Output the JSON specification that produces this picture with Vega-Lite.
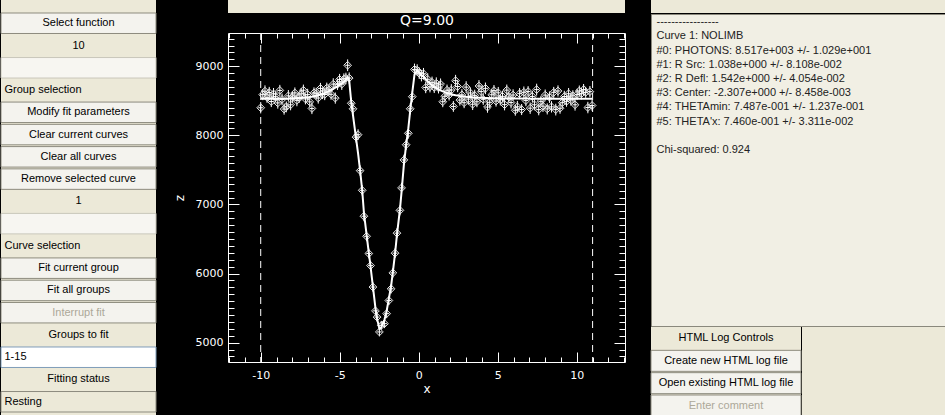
{
  "$schema": "https://vega.github.io/schema/vega-lite/v6.json",
  "background": "#000000",
  "padding": 0,
  "spacing": 15,
  "config": {
    "view": {"stroke": null},
    "axis": {"grid": false, "domain": false, "tickColor": "#ffffff", "labelColor": "#ffffff", "titleColor": "#ffffff", "labelFont": "DejaVu Sans", "titleFont": "DejaVu Sans", "labelFontSize": 11, "titleFontWeight": "normal", "tickWidth": 1}
  },
  "datasets": {
    "pts": [
      {"x":-10.00,"z":8400,"e":82,"f":8530},{"x":-9.87,"z":8590,"e":80,"f":8530},{"x":-9.73,"z":8640,"e":84,"f":8530},{"x":-9.60,"z":8550,"e":78,"f":8530},{"x":-9.46,"z":8620,"e":82,"f":8530},{"x":-9.33,"z":8490,"e":80,"f":8530},{"x":-9.19,"z":8600,"e":86,"f":8530},{"x":-9.06,"z":8560,"e":79,"f":8530},{"x":-8.92,"z":8470,"e":83,"f":8530},{"x":-8.79,"z":8651,"e":80,"f":8531},{"x":-8.65,"z":8521,"e":85,"f":8531},{"x":-8.52,"z":8381,"e":81,"f":8531},{"x":-8.38,"z":8412,"e":78,"f":8532},{"x":-8.25,"z":8572,"e":84,"f":8532},{"x":-8.11,"z":8443,"e":80,"f":8533},{"x":-7.98,"z":8554,"e":82,"f":8534},{"x":-7.84,"z":8615,"e":79,"f":8535},{"x":-7.71,"z":8507,"e":85,"f":8537},{"x":-7.57,"z":8549,"e":80,"f":8539},{"x":-7.44,"z":8601,"e":83,"f":8541},{"x":-7.30,"z":8654,"e":81,"f":8544},{"x":-7.17,"z":8527,"e":78,"f":8547},{"x":-7.03,"z":8590,"e":84,"f":8550},{"x":-6.90,"z":8485,"e":80,"f":8555},{"x":-6.76,"z":8390,"e":82,"f":8560},{"x":-6.63,"z":8616,"e":79,"f":8566},{"x":-6.49,"z":8603,"e":85,"f":8573},{"x":-6.36,"z":8541,"e":81,"f":8581},{"x":-6.22,"z":8680,"e":80,"f":8590},{"x":-6.09,"z":8610,"e":84,"f":8600},{"x":-5.95,"z":8592,"e":82,"f":8612},{"x":-5.82,"z":8685,"e":79,"f":8625},{"x":-5.68,"z":8660,"e":83,"f":8640},{"x":-5.55,"z":8595,"e":80,"f":8655},{"x":-5.41,"z":8742,"e":85,"f":8672},{"x":-5.28,"z":8540,"e":81,"f":8690},{"x":-5.14,"z":8740,"e":82,"f":8710},{"x":-5.01,"z":8810,"e":80,"f":8730},{"x":-4.87,"z":8742,"e":84,"f":8752},{"x":-4.74,"z":8816,"e":81,"f":8776},{"x":-4.61,"z":8825,"e":83,"f":8805},
      {"x":-4.50,"z":9015,"e":85,"f":8840},{"x":-4.40,"z":8830,"e":82,"f":8790},{"x":-4.27,"z":8465,"e":80,"f":8480},{"x":-4.16,"z":8385,"e":80,"f":8290},{"x":-3.97,"z":7975,"e":78,"f":7960},{"x":-3.84,"z":8010,"e":78,"f":7740},{"x":-3.71,"z":7490,"e":76,"f":7490},{"x":-3.58,"z":7205,"e":75,"f":7210},{"x":-3.47,"z":6830,"e":73,"f":6880},{"x":-3.30,"z":6540,"e":72,"f":6560},{"x":-3.16,"z":6290,"e":70,"f":6300},{"x":-3.05,"z":6115,"e":70,"f":6100},{"x":-2.90,"z":5805,"e":68,"f":5810},{"x":-2.74,"z":5460,"e":66,"f":5500},{"x":-2.64,"z":5370,"e":66,"f":5350},{"x":-2.49,"z":5155,"e":65,"f":5200},{"x":-2.37,"z":5250,"e":65,"f":5220},{"x":-2.17,"z":5275,"e":65,"f":5330},{"x":-2.03,"z":5420,"e":66,"f":5460},{"x":-1.89,"z":5610,"e":67,"f":5640},{"x":-1.75,"z":5780,"e":68,"f":5820},{"x":-1.64,"z":6010,"e":69,"f":6020},{"x":-1.50,"z":6295,"e":70,"f":6290},{"x":-1.38,"z":6585,"e":72,"f":6560},{"x":-1.19,"z":6915,"e":73,"f":6930},{"x":-1.09,"z":7240,"e":74,"f":7180},{"x":-0.94,"z":7645,"e":76,"f":7580},{"x":-0.80,"z":7865,"e":77,"f":7860},{"x":-0.66,"z":8030,"e":78,"f":8100},{"x":-0.54,"z":8385,"e":80,"f":8360},{"x":-0.41,"z":8560,"e":81,"f":8620},{"x":-0.27,"z":8955,"e":84,"f":8880},{"x":-0.10,"z":8945,"e":84,"f":8940},{"x":0.03,"z":8900,"e":84,"f":8905},{"x":0.17,"z":8865,"e":83,"f":8870},
      {"x":0.30,"z":8892,"e":84,"f":8852},{"x":0.44,"z":8693,"e":82,"f":8813},{"x":0.57,"z":8812,"e":84,"f":8782},{"x":0.71,"z":8702,"e":80,"f":8752},{"x":0.84,"z":8768,"e":83,"f":8728},{"x":0.98,"z":8694,"e":81,"f":8704},{"x":1.11,"z":8755,"e":85,"f":8685},{"x":1.25,"z":8687,"e":80,"f":8667},{"x":1.38,"z":8742,"e":82,"f":8652},{"x":1.52,"z":8487,"e":79,"f":8637},{"x":1.65,"z":8566,"e":84,"f":8626},{"x":1.79,"z":8654,"e":81,"f":8614},{"x":1.92,"z":8585,"e":80,"f":8605},{"x":2.06,"z":8657,"e":85,"f":8597},{"x":2.19,"z":8419,"e":78,"f":8589},{"x":2.33,"z":8792,"e":84,"f":8582},{"x":2.46,"z":8707,"e":82,"f":8577},{"x":2.60,"z":8511,"e":80,"f":8571},{"x":2.73,"z":8587,"e":83,"f":8567},{"x":2.87,"z":8473,"e":79,"f":8563},{"x":3.00,"z":8699,"e":85,"f":8559},{"x":3.14,"z":8526,"e":81,"f":8556},{"x":3.27,"z":8614,"e":80,"f":8554},{"x":3.41,"z":8451,"e":84,"f":8551},{"x":3.54,"z":8579,"e":82,"f":8549},{"x":3.68,"z":8487,"e":79,"f":8547},{"x":3.81,"z":8715,"e":85,"f":8545},{"x":3.95,"z":8634,"e":81,"f":8544},{"x":4.08,"z":8522,"e":80,"f":8542},{"x":4.22,"z":8681,"e":84,"f":8541},{"x":4.35,"z":8410,"e":82,"f":8540},{"x":4.49,"z":8479,"e":79,"f":8539},{"x":4.62,"z":8588,"e":83,"f":8538},{"x":4.76,"z":8648,"e":81,"f":8538},{"x":4.89,"z":8497,"e":80,"f":8537},{"x":5.03,"z":8616,"e":85,"f":8536},{"x":5.16,"z":8516,"e":82,"f":8536},{"x":5.30,"z":8565,"e":79,"f":8535},{"x":5.43,"z":8445,"e":83,"f":8535},{"x":5.57,"z":8655,"e":81,"f":8535},{"x":5.70,"z":8555,"e":80,"f":8534},{"x":5.84,"z":8475,"e":84,"f":8534},{"x":5.97,"z":8585,"e":82,"f":8534},{"x":6.11,"z":8364,"e":79,"f":8533},{"x":6.24,"z":8414,"e":85,"f":8533},{"x":6.38,"z":8604,"e":81,"f":8533},{"x":6.51,"z":8374,"e":80,"f":8533},{"x":6.65,"z":8624,"e":84,"f":8533},{"x":6.78,"z":8504,"e":82,"f":8533},{"x":6.92,"z":8634,"e":79,"f":8533},{"x":7.05,"z":8394,"e":83,"f":8532},{"x":7.19,"z":8564,"e":81,"f":8532},{"x":7.32,"z":8443,"e":80,"f":8532},{"x":7.46,"z":8663,"e":85,"f":8532},{"x":7.59,"z":8373,"e":82,"f":8532},{"x":7.73,"z":8493,"e":79,"f":8532},{"x":7.86,"z":8423,"e":84,"f":8532},{"x":8.00,"z":8583,"e":81,"f":8532},{"x":8.13,"z":8383,"e":80,"f":8532},{"x":8.27,"z":8553,"e":83,"f":8532},{"x":8.40,"z":8413,"e":82,"f":8532},{"x":8.54,"z":8623,"e":79,"f":8532},{"x":8.67,"z":8373,"e":85,"f":8532},{"x":8.81,"z":8643,"e":81,"f":8532},{"x":8.94,"z":8393,"e":80,"f":8532},{"x":9.08,"z":8473,"e":84,"f":8532},{"x":9.21,"z":8563,"e":82,"f":8532},{"x":9.35,"z":8493,"e":79,"f":8532},{"x":9.48,"z":8603,"e":83,"f":8532},{"x":9.62,"z":8513,"e":81,"f":8532},{"x":9.75,"z":8573,"e":80,"f":8532},{"x":9.89,"z":8443,"e":85,"f":8532},{"x":10.02,"z":8593,"e":82,"f":8532},{"x":10.16,"z":8643,"e":79,"f":8532},{"x":10.29,"z":8603,"e":84,"f":8532},{"x":10.43,"z":8663,"e":81,"f":8532},{"x":10.56,"z":8623,"e":80,"f":8532},{"x":10.70,"z":8403,"e":83,"f":8532},{"x":10.83,"z":8633,"e":82,"f":8532},{"x":10.97,"z":8433,"e":80,"f":8532}
    ],
    "limits": [{"x": -10}, {"x": 11}],
    "panelL": [
      {"id":"a","label":"Select function","kind":"button"},
      {"id":"b","label":"10","kind":"label"},
      {"id":"c","label":"","kind":"slider"},
      {"id":"d","label":"Group selection","kind":"caption"},
      {"id":"e","label":"Modify fit parameters","kind":"button"},
      {"id":"f","label":"Clear current curves","kind":"button"},
      {"id":"g","label":"Clear all curves","kind":"button"},
      {"id":"h","label":"Remove selected curve","kind":"button"},
      {"id":"i","label":"1","kind":"label"},
      {"id":"j","label":"","kind":"slider"},
      {"id":"k","label":"Curve selection","kind":"caption"},
      {"id":"l","label":"Fit current group","kind":"button"},
      {"id":"m","label":"Fit all groups","kind":"button"},
      {"id":"n","label":"Interrupt fit","kind":"disabled"},
      {"id":"o","label":"Groups to fit","kind":"label"},
      {"id":"p","label":"1-15","kind":"box"},
      {"id":"q","label":"Fitting status","kind":"label"},
      {"id":"r","label":"Resting","kind":"status"}
    ],
    "panelR": [
      {"id":"l0","text":"-----------------"},
      {"id":"l1","text":"Curve 1: NOLIMB"},
      {"id":"l2","text":"#0: PHOTONS: 8.517e+003 +/- 1.029e+001"},
      {"id":"l3","text":"#1: R Src: 1.038e+000 +/- 8.108e-002"},
      {"id":"l4","text":"#2: R Defl: 1.542e+000 +/- 4.054e-002"},
      {"id":"l5","text":"#3: Center: -2.307e+000 +/- 8.458e-003"},
      {"id":"l6","text":"#4: THETAmin: 7.487e-001 +/- 1.237e-001"},
      {"id":"l7","text":"#5: THETA'x: 7.460e-001 +/- 3.311e-002"},
      {"id":"l8","text":""},
      {"id":"l9","text":"Chi-squared: 0.924"}
    ],
    "panelC": [
      {"id":"c0","label":"HTML Log Controls","kind":"label"},
      {"id":"c1","label":"Create new HTML log file","kind":"button"},
      {"id":"c2","label":"Open existing HTML log file","kind":"button"},
      {"id":"c3","label":"Enter comment","kind":"disabled"}
    ]
  },
  "hconcat": [
    {
      "width": 155, "height": 415,
      "view": {"fill": "#ece9d8", "stroke": null},
      "data": {"name": "panelL"},
      "encoding": {"y": {"field": "id", "type": "nominal", "axis": null, "scale": {"domain": ["a","b","c","d","e","f","g","h","i","j","k","l","m","n","o","p","q","r"], "range": [13, 412], "paddingInner": 0.08, "paddingOuter": 0}}},
      "layer": [
        {"transform": [{"filter": "datum.kind === 'button' || datum.kind === 'disabled'"}], "mark": {"type": "rect", "fill": "#f4f3ee", "stroke": "#8d8b7e", "strokeWidth": 1}},
        {"transform": [{"filter": "datum.kind === 'slider'"}], "mark": {"type": "rect", "fill": "#f7f6f1", "stroke": "#c9c7ba", "strokeWidth": 1}},
        {"transform": [{"filter": "datum.kind === 'box'"}], "mark": {"type": "rect", "fill": "#ffffff", "stroke": "#7f9db9", "strokeWidth": 1}},
        {"transform": [{"filter": "datum.kind === 'status'"}], "mark": {"type": "rect", "fill": "#ece9d8", "stroke": "#8d8b7e", "strokeWidth": 1}},
        {"transform": [{"filter": "datum.kind === 'button' || datum.kind === 'label'"}], "mark": {"type": "text", "font": "Liberation Sans", "fontSize": 11, "color": "#000000"}, "encoding": {"text": {"field": "label"}}},
        {"transform": [{"filter": "datum.kind === 'disabled'"}], "mark": {"type": "text", "font": "Liberation Sans", "fontSize": 11, "color": "#aca899"}, "encoding": {"text": {"field": "label"}}},
        {"transform": [{"filter": "datum.kind === 'caption' || datum.kind === 'box' || datum.kind === 'status'"}], "mark": {"type": "text", "font": "Liberation Sans", "fontSize": 11, "color": "#000000", "align": "left", "dx": -74}, "encoding": {"text": {"field": "label"}}}
      ]
    },
    {
      "spacing": 24,
      "hconcat": [
        {
          "spacing": 0,
          "vconcat": [
            {"width": 397, "height": 13, "view": {"fill": "#ece9d8", "stroke": null}, "data": {"values": []}, "mark": "point"},
            {
              "width": 397, "height": 329,
              "view": {"fill": "#000000", "stroke": "#ffffff", "strokeWidth": 1},
              "resolve": {"scale": {"x": "shared", "y": "shared"}, "axis": {"x": "independent", "y": "independent"}},
              "layer": [
                {
                  "data": {"name": "pts"},
                  "mark": {"type": "errorbar", "color": "#ffffff", "thickness": 1},
                  "encoding": {
                    "x": {"field": "x", "type": "quantitative", "scale": {"domain": [-12.07, 13.05], "nice": false, "zero": false}, "axis": null},
                    "y": {"field": "z", "type": "quantitative", "scale": {"domain": [4720, 9482], "nice": false, "zero": false}, "axis": {"orient": "right", "values": [4800,4900,5000,5100,5200,5300,5400,5500,5600,5700,5800,5900,6000,6100,6200,6300,6400,6500,6600,6700,6800,6900,7000,7100,7200,7300,7400,7500,7600,7700,7800,7900,8000,8100,8200,8300,8400,8500,8600,8700,8800,8900,9000,9100,9200,9300,9400], "tickSize": -6, "labels": false, "title": null}},
                    "yError": {"field": "e"}
                  }
                },
                {
                  "data": {"name": "pts"},
                  "mark": {"type": "point", "shape": "diamond", "filled": false, "size": 60, "stroke": "#e6e6e6", "strokeWidth": 1, "opacity": 1},
                  "encoding": {
                    "x": {"field": "x", "type": "quantitative", "scale": {"domain": [-12.07, 13.05], "nice": false, "zero": false}, "axis": {"orient": "bottom", "values": [-10, -5, 0, 5, 10], "tickSize": -10, "labelPadding": 17, "labelExpr": "'' + datum.value", "title": "x", "titlePadding": 3, "titleFontSize": 12}},
                    "y": {"field": "z", "type": "quantitative", "scale": {"domain": [4720, 9482], "nice": false, "zero": false}, "axis": {"orient": "left", "values": [5000, 6000, 7000, 8000, 9000], "tickSize": -11, "labelPadding": 16, "labelExpr": "'' + datum.value", "title": "z", "titlePadding": 9, "titleFontSize": 12}}
                  }
                },
                {
                  "data": {"name": "pts"},
                  "mark": {"type": "point", "shape": "stroke", "size": 25, "stroke": "#ffffff", "strokeWidth": 1, "opacity": 1},
                  "encoding": {
                    "x": {"field": "x", "type": "quantitative", "scale": {"domain": [-12.07, 13.05], "nice": false, "zero": false}, "axis": {"orient": "bottom", "values": [-12,-11,-10,-9,-8,-7,-6,-5,-4,-3,-2,-1,0,1,2,3,4,5,6,7,8,9,10,11,12,13], "tickSize": -5, "labels": false, "title": null}},
                    "y": {"field": "z", "type": "quantitative", "scale": {"domain": [4720, 9482], "nice": false, "zero": false}, "axis": {"orient": "left", "values": [4800,4900,5000,5100,5200,5300,5400,5500,5600,5700,5800,5900,6000,6100,6200,6300,6400,6500,6600,6700,6800,6900,7000,7100,7200,7300,7400,7500,7600,7700,7800,7900,8000,8100,8200,8300,8400,8500,8600,8700,8800,8900,9000,9100,9200,9300,9400], "tickSize": -6, "labels": false, "title": null}}
                  }
                },
                {
                  "data": {"name": "pts"},
                  "mark": {"type": "line", "color": "#ffffff", "strokeWidth": 2},
                  "encoding": {
                    "x": {"field": "x", "type": "quantitative", "scale": {"domain": [-12.07, 13.05], "nice": false, "zero": false}, "axis": {"orient": "top", "values": [-10, -5, 0, 5, 10], "tickSize": -10, "labels": false, "title": "Q=9.00", "titlePadding": 5, "titleFontSize": 14}},
                    "y": {"field": "f", "type": "quantitative", "scale": {"domain": [4720, 9482], "nice": false, "zero": false}, "axis": {"orient": "right", "values": [5000, 6000, 7000, 8000, 9000], "tickSize": -11, "labels": false, "title": null}}
                  }
                },
                {
                  "data": {"name": "limits"},
                  "mark": {"type": "rule", "color": "#ffffff", "strokeDash": [7, 5], "strokeWidth": 1},
                  "encoding": {
                    "x": {"field": "x", "type": "quantitative", "scale": {"domain": [-12.07, 13.05], "nice": false, "zero": false}, "axis": {"orient": "top", "values": [-12,-11,-10,-9,-8,-7,-6,-5,-4,-3,-2,-1,0,1,2,3,4,5,6,7,8,9,10,11,12,13], "tickSize": -5, "labels": false, "title": null}}
                  }
                }
              ]
            }
          ]
        },
        {
          "spacing": 0,
          "vconcat": [
            {"width": 295, "height": 13, "view": {"fill": "#ece9d8", "stroke": null}, "data": {"values": []}, "mark": "point"},
            {
              "width": 295, "height": 312,
              "view": {"fill": "#f1efe4", "stroke": "#8a887c", "strokeWidth": 1},
              "data": {"name": "panelR"},
              "mark": {"type": "text", "font": "Liberation Sans", "fontSize": 11, "color": "#222222", "align": "left", "dx": -142},
              "encoding": {
                "y": {"field": "id", "type": "nominal", "axis": null, "scale": {"domain": ["l0","l1","l2","l3","l4","l5","l6","l7","l8","l9"], "range": [1, 143], "paddingInner": 0, "paddingOuter": 0}},
                "text": {"field": "text"}
              }
            },
            {
              "spacing": 0,
              "hconcat": [
                {
                  "width": 150, "height": 90,
                  "view": {"fill": "#ece9d8", "stroke": null},
                  "data": {"name": "panelC"},
                  "encoding": {"y": {"field": "id", "type": "nominal", "axis": null, "scale": {"domain": ["c0","c1","c2","c3"], "range": [1, 89], "paddingInner": 0.06, "paddingOuter": 0}}},
                  "layer": [
                    {"transform": [{"filter": "datum.kind === 'button' || datum.kind === 'disabled'"}], "mark": {"type": "rect", "fill": "#f4f3ee", "stroke": "#8d8b7e", "strokeWidth": 1}},
                    {"transform": [{"filter": "datum.kind !== 'disabled'"}], "mark": {"type": "text", "font": "Liberation Sans", "fontSize": 11, "color": "#000000"}, "encoding": {"text": {"field": "label"}}},
                    {"transform": [{"filter": "datum.kind === 'disabled'"}], "mark": {"type": "text", "font": "Liberation Sans", "fontSize": 11, "color": "#aca899"}, "encoding": {"text": {"field": "label"}}}
                  ]
                },
                {"width": 145, "height": 90, "view": {"fill": "#ece9d8", "stroke": null}, "data": {"values": []}, "mark": "point"}
              ]
            }
          ]
        }
      ]
    }
  ]
}
